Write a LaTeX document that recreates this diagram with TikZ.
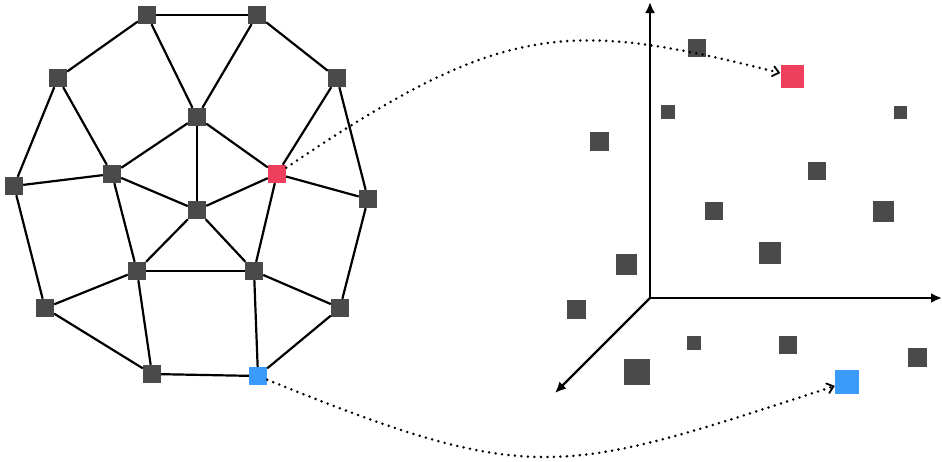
\documentclass[tikz,border=0pt]{standalone}
\usetikzlibrary{arrows.meta}
\definecolor{vgray}{HTML}{4A4A4A}
\definecolor{vred}{HTML}{EE3F5C}
\definecolor{vblue}{HTML}{3A9BFA}

\begin{document}
\begin{tikzpicture}[x=1pt,y=-1pt,
    vert/.style={fill=#1,minimum size=18pt,inner sep=0pt},
    vert/.default=vgray,
    sq/.style={fill=vgray,minimum size=#1,inner sep=0pt},
    edge/.style={line width=2.2pt},
    axis/.style={line width=2.2pt,-{Latex[length=11pt,width=10pt]}},
    link/.style={line width=2.8pt,line cap=round,dash pattern=on 0pt off 6.5pt,
        -{Straight Barb[length=6pt,width=10pt,line width=1.8pt,line cap=round]}}]
    \useasboundingbox (0,0) rectangle (942,461);

    % graph
    \node[vert] (t1) at (147,15) {};
    \node[vert] (t2) at (257,15) {};
    \node[vert] (u1) at (58,78) {};
    \node[vert] (u2) at (337,78) {};
    \node[vert] (c1) at (197,117) {};
    \node[vert] (l1) at (14,186) {};
    \node[vert] (m1) at (112,174) {};
    \node[vert=vred] (red) at (277,174) {};
    \node[vert] (r1) at (368,199) {};
    \node[vert] (c2) at (197,210) {};
    \node[vert] (b1) at (137,271) {};
    \node[vert] (b2) at (254,271) {};
    \node[vert] (l2) at (45,308) {};
    \node[vert] (r2) at (340,308) {};
    \node[vert] (d1) at (152,374) {};
    \node[vert=vblue] (blue) at (258,376) {};

    \foreach \a/\b in {t1/t2,t1/u1,t1/c1,t2/c1,t2/u2,u1/l1,u1/m1,u2/red,u2/r1,
        c1/m1,c1/c2,c1/red,l1/m1,m1/c2,m1/b1,red/c2,red/r1,red/b2,c2/b1,c2/b2,
        b1/b2,l1/l2,b1/l2,b1/d1,l2/d1,d1/blue,b2/blue,b2/r2,r1/r2,r2/blue}
        {\draw[edge] (\a) -- (\b);}

    % axes
    \coordinate (O) at (650,298);
    \coordinate (ey) at (650,2);
    \coordinate (ex) at (942,298);
    \coordinate (ez) at (555,393);
    \draw[axis] (O) -- (ey);
    \draw[axis] (O) -- (ex);
    \draw[axis] (O) -- (ez);

    % embedded points
    \node[sq=18pt] (p1) at (697,48) {};
    \node[sq=23pt,fill=vred] (sred) at (792,76) {};
    \node[sq=14pt] (p2) at (668,112) {};
    \node[sq=13pt] (p3) at (900,112) {};
    \node[sq=19pt] (p4) at (599,141) {};
    \node[sq=18pt] (p5) at (817,171) {};
    \node[sq=18pt] (p6) at (714,211) {};
    \node[sq=21pt] (p7) at (883,211) {};
    \node[sq=22pt] (p8) at (770,253) {};
    \node[sq=21pt] (p9) at (626,264) {};
    \node[sq=19pt] (p10) at (576,309) {};
    \node[sq=14pt] (p11) at (694,343) {};
    \node[sq=18pt] (p12) at (788,345) {};
    \node[sq=19pt] (p13) at (917,357) {};
    \node[sq=26pt] (p14) at (637,372) {};
    \node[sq=24pt,fill=vblue] (sblue) at (847,382) {};

    % mapping
    \draw[link] (red) .. controls (503,21) and (567,19) .. (sred);
    \draw[link] (blue) to[out=-22,in=198,looseness=1.3] (sblue);
\end{tikzpicture}
\end{document}
